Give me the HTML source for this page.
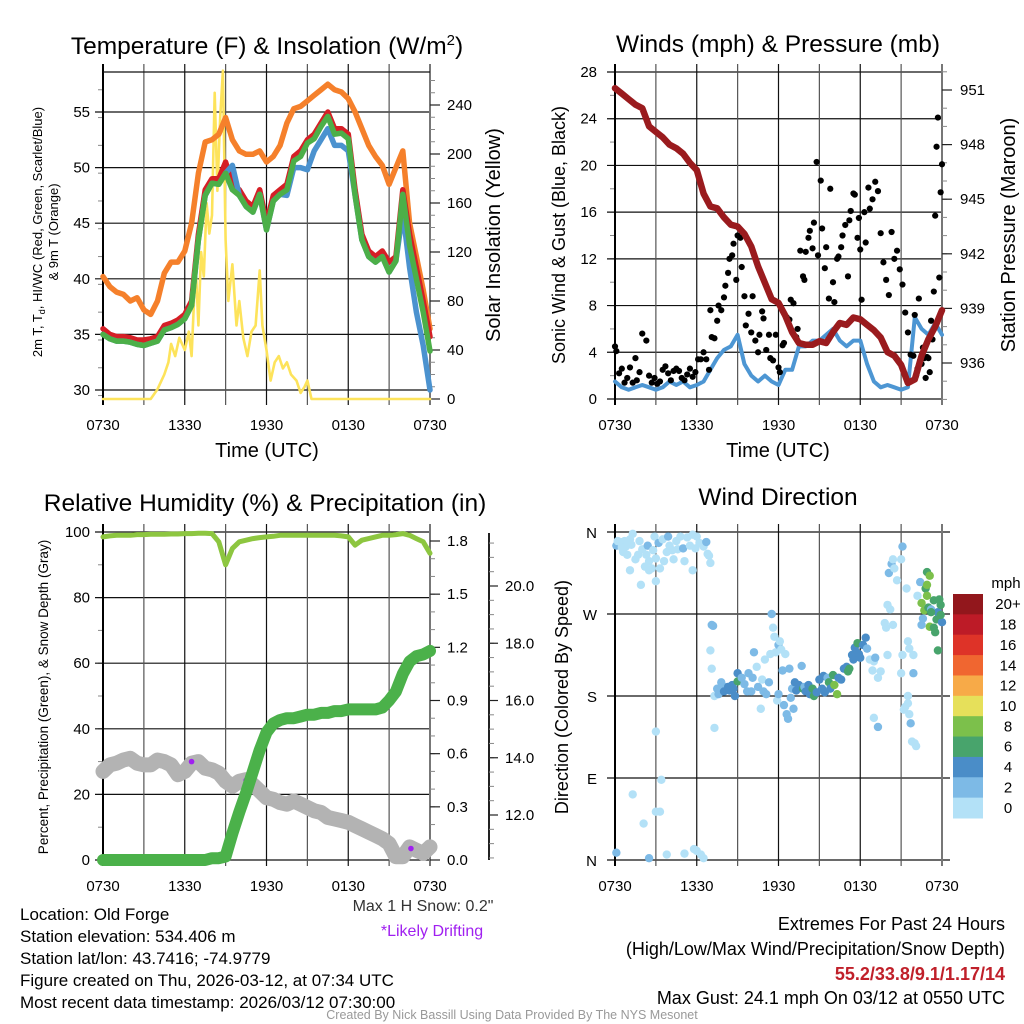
<!DOCTYPE html>
<html><head><meta charset="utf-8"><style>
html,body{margin:0;padding:0;background:#fff;}
svg{display:block;font-family:"Liberation Sans",Arial,sans-serif;}
</style></head><body>
<svg id="s" width="1024" height="1024" viewBox="0 0 1024 1024" xmlns="http://www.w3.org/2000/svg">
<text x="267" y="54" font-size="24.5" text-anchor="middle">Temperature (F) &amp; Insolation (W/m<tspan font-size="15" dy="-9">2</tspan><tspan dy="9">)</tspan></text>
<text x="778" y="52" font-size="24.5" text-anchor="middle">Winds (mph) &amp; Pressure (mb)</text>
<text x="265" y="511" font-size="24.5" text-anchor="middle">Relative Humidity (%) &amp; Precipitation (in)</text>
<text x="778" y="505" font-size="24.5" text-anchor="middle">Wind Direction</text>
<g id="g"></g>
<g font-size="17">
<text x="20" y="920">Location: Old Forge</text>
<text x="20" y="942">Station elevation: 534.406 m</text>
<text x="20" y="964">Station lat/lon: 43.7416; -74.9779</text>
<text x="20" y="986">Figure created on Thu, 2026-03-12, at 07:34 UTC</text>
<text x="20" y="1008">Most recent data timestamp: 2026/03/12 07:30:00</text>
</g>
<text x="423" y="911" font-size="16" text-anchor="middle" fill="#333">Max 1 H Snow: 0.2"</text>
<text x="432" y="936" font-size="16" text-anchor="middle" fill="#a020f0">*Likely Drifting</text>
<g font-size="18" text-anchor="end">
<text x="1005" y="930">Extremes For Past 24 Hours</text>
<text x="1005" y="955">(High/Low/Max Wind/Precipitation/Snow Depth)</text>
<text x="1005" y="980" fill="#c0202a" font-weight="bold">55.2/33.8/9.1/1.17/14</text>
<text x="1005" y="1004">Max Gust: 24.1 mph On 03/12 at 0550 UTC</text>
</g>
<text x="512" y="1019" font-size="12.5" text-anchor="middle" fill="#999">Created By Nick Bassill Using Data Provided By The NYS Mesonet</text>
</svg>
<script>
// ---- data ----
const timeLabels=["0730","1330","1930","0130","0730"];
const halfHours=[0,0.5,1,1.5,2,2.5,3,3.5,4,4.5,5,5.5,6,6.5,7,7.5,8,8.5,9,9.5,10,10.5,11,11.5,12,12.5,13,13.5,14,14.5,15,15.5,16,16.5,17,17.5,18,18.5,19,19.5,20,20.5,21,21.5,22,22.5,23,23.5,24];
const temp9m=[40.2,39.3,38.8,38.6,38,38.3,37.2,36.8,38,40.5,41.5,41.5,42.5,45,49.5,52.3,52.5,53,54.5,52.5,51.5,51.2,51.2,51.5,50.5,51,52,54,55.3,55.5,56,56.5,57,57.5,57,56.8,56.2,55,53.5,52,51,50.2,48.5,50,51.5,45,42,39,35.5];
const temp2m=[35.5,35,34.8,34.8,34.7,34.5,34.5,34.6,34.8,35.8,36,36.3,36.8,38,44,48,49,49,50.5,48.5,48,47,46.5,48,45,47.5,48,48.5,51,51.5,52.5,53,54,55,53.5,53.5,53,48,44,42.5,42,42.5,41.5,42,48,44,41,38,34.8];
const dewpt=[35,34.6,34.4,34.4,34.3,34.1,34,34.2,34.4,35.4,35.6,35.9,36.4,37.6,43.5,47.5,48.6,48.5,49.5,48,47.5,46.5,46,47.6,44.4,47,47.6,48,50.6,51,52.2,52.6,53.7,54.6,53,53.1,52.6,47.5,43.5,42,41.5,42,40.6,41.6,47.6,43,40,37,33.5];
const windChill=[35,34.6,34.4,34.4,34.3,34.1,34,34.2,34.4,35.4,35.6,35.9,36.4,37.6,43.5,47.5,48.6,48.5,49.5,50.2,47.5,46.5,46,47.6,44.4,47,47.6,47.5,50,50,49.8,51.5,52.5,53.5,52,52,51.5,47.5,43.5,42,41.5,42,40.6,41.6,46,41,37,34,30];
const solarTimes=[0,3.5,4,4.5,4.8,5,5.3,5.6,6,6.3,6.5,6.8,7,7.2,7.4,7.6,7.8,8,8.2,8.4,8.6,8.8,9,9.2,9.5,9.8,10,10.3,10.6,10.9,11.2,11.5,11.7,12,12.3,12.6,12.9,13.2,13.5,13.8,14.2,14.5,14.8,15,15.3,24];
const solar=[0,0,8,20,30,45,35,50,40,55,35,110,60,120,100,160,135,150,250,170,230,268,130,80,110,60,80,50,35,55,60,105,60,40,15,30,35,25,30,20,15,5,10,15,0,0];
const sonicWind=[1.5,1,0.8,1,1.2,1,0.8,1,1.5,1.2,1.5,1,1.2,1.5,2.5,3.5,4.2,4.5,5.5,3,2,1.5,2,1.5,1.2,2.5,2.5,4.5,4.5,5,5,5.5,6,5,4.5,5,5,3,1.5,1,1.2,1,0.8,1,7,6,5.5,6.5,5.5];
const pressure=[951.1,950.8,950.5,950.2,950,949,948.7,948.4,948,947.8,947.5,947,946.6,945.3,944.6,944.5,944,943.6,943.5,943.1,942.4,941.3,940.4,939.5,939.3,938.6,937.7,937.1,937,937,937.2,937.1,937.7,938.2,938.1,938.5,938.4,938.1,937.8,937.4,936.6,936.4,935.9,934.9,935.1,936.4,937.3,938,938.9];
const gustTimes=[0,0.1,0.3,0.5,0.7,0.9,1.1,1.3,1.5,1.6,1.8,2,2.3,2.5,2.7,2.9,3.1,3.3,3.5,3.7,3.9,4.1,4.3,4.5,4.7,4.9,5.1,5.3,5.5,5.7,5.9,6.1,6.3,6.5,6.7,6.9,7,7.1,7.3,7.5,7.6,7.8,8,8.1,8.3,8.4,8.6,8.7,8.9,9,9.2,9.3,9.5,9.6,9.8,10,10.1,10.3,10.5,10.6,10.8,10.9,11.1,11.3,11.4,11.6,11.8,12,12.1,12.3,12.4,12.6,12.8,12.9,13.1,13.3,13.4,13.6,13.8,13.9,14,14.2,14.3,14.5,14.6,14.8,14.9,15.1,15.2,15.4,15.5,15.7,15.8,16,16.1,16.3,16.4,16.6,16.7,16.9,17.1,17.2,17.3,17.5,17.6,17.8,17.9,18,18.1,18.3,18.4,18.6,18.7,18.9,19.1,19.3,19.5,19.7,19.9,20.1,20.3,20.5,20.7,20.9,21.1,21.3,21.5,21.7,21.9,22,22.1,22.2,22.3,22.4,22.5,22.6,22.7,22.8,22.9,23,23.1,23.2,23.3,23.4,23.5,23.6,23.7,23.8,23.9,24];
const gusts=[4.5,4.1,2.2,2.6,1.4,1.8,2.7,1.4,3.5,1.6,2.3,5.6,5,2,1.4,1.8,1.3,1.5,2.5,2.8,2.2,1.6,2.4,2.6,2.4,1.8,1.6,2.1,2.6,1.9,2.3,3.4,3.4,4,3.4,2.5,7.6,5.3,5.2,6.7,8,7.6,8.7,9.7,10.8,12,12.3,13.3,10.2,14,13.8,11.3,8.8,6.3,7.3,5.7,8.8,5,4,5.5,7.5,6.9,4.2,5.5,3.5,3.3,5.5,2.7,2.3,4.6,4.8,7,6.8,8.5,8.2,5.3,6,12.7,10.5,10.2,12.6,13.8,14.4,12.9,15.1,20.3,12.3,18.7,14.6,11.2,13,8.6,18,10,8.3,12,12.2,13,14,14.9,10.5,15.3,16.1,17.6,17.5,13.8,15.5,12.8,8.5,16,13.4,18.1,16.3,17.1,18.6,17.8,14.2,11.7,10.2,8.9,14.3,12,12.7,11.1,9.8,7.4,5.7,3.8,3.7,7.2,2,2.6,8.6,3.3,3,4.4,3.5,1.8,3.6,3.5,2.3,6.7,5.1,9.2,15.7,21.6,24.1,10.4,17.7,20.1,19.3,16.2,14.2,22,17.3,20.5,18.7,19.7,16.6,12,11.7,18.9,15.3,18.2,13.5,17.5];
const rh=[98.5,98.8,99,99,99,99.2,99.2,99.3,99.3,99.3,99.4,99.4,99.5,99.5,99.6,99.6,99.5,97,90,95,97,97.5,98,98.3,98.5,98.7,99,99,99,99,99,99,99,99,99,98.8,98.5,96,97.5,98,98.5,99,99,99.2,99.5,99,98,97,93.5];
const precip=[0,0,0,0,0,0,0,0,0,0,0,0,0,0,0,0,0.01,0.01,0.02,0.15,0.27,0.38,0.5,0.62,0.72,0.77,0.79,0.8,0.8,0.81,0.82,0.82,0.83,0.83,0.84,0.84,0.85,0.85,0.85,0.85,0.85,0.86,0.9,0.95,1.05,1.12,1.15,1.16,1.18];
const snowDepth=[27,29,29.5,30.5,31,29.5,29,29,30.5,30,29,26,27,29.5,30,28,27.5,26.5,24,22.5,24,24.5,23,21,19,18.5,17.5,17,18,17,16,15,14.5,13,12.5,12,11.5,10.5,9.5,8.5,7.5,6.5,5,1,1,4,3,2,4];
const driftTimes=[6.5,10.5,22.6];
const driftValues=[30,24.3,3.5];
const dirTimes=[0.1,0.2,0.4,0.5,0.6,0.7,0.8,0.9,1.1,1.2,1.3,1.5,1.7,1.8,2,2.3,2.4,2.5,2.7,2.8,2.9,3,3.2,3.3,3.5,3.6,3.8,3.9,4,4.2,4.3,4.5,4.6,4.8,5,5.1,5.3,5.5,5.7,5.9,6,6.2,6.5,6.7,6.8,6.9,7,5.7,3,2.2,1.1,1.9,2.5,0.1,2.5,3.8,5.1,5.8,6,6.3,6.5,1.3,2.1,3,3.3,3.4,3,7,7.1,7.2,7.1,7.3,7.3,7.5,7.6,7.8,8,8,8.3,8.4,8.6,8.7,8.8,9,9,9.3,9.5,9.7,9.8,10,10.1,10.2,10.4,10.5,10.7,10.8,10.9,11,11.1,11.3,11.4,11.5,11.6,11.7,11.8,11.9,12,12,12.1,12.2,12.3,12.4,12.5,12.6,12.7,12.8,12.9,13,13.1,13.2,13.3,13.5,13.7,13.8,13.9,14,14.2,14.3,14.5,14.6,14.8,15,15.2,15.3,15.4,15.6,15.7,15.8,16,16.1,16.3,16.4,16.6,16.8,17,17.1,17.2,17.4,17.5,17.6,17.7,17.8,17.9,18,18.2,18.4,18.5,18.7,18.9,19,19.1,19.3,19.5,19,19.3,19.8,19.9,20,20.2,20.4,20,20.1,20.3,20.4,20.5,20.7,21.1,21.4,21,21.5,21.9,21.2,21.3,21,21.5,21.6,21.9,21.6,21.7,21.8,22,22.1,21.1,21.5,22.2,22.4,22.5,22.6,22.5,22.7,22.8,22.9,23,23.1,23.2,23.4,23.5,23.6,23.7,23.9,23.7,23.4,22.9,23.2,24,23.9,22.9,23.1,23.8];
const dirDegrees=[345,350,349,343,338,350,344,335,352,346,358,330,335,350,341,335,345,328,320,340,355,331,348,320,352,328,338,355,345,340,330,350,341,355,342,328,354,345,357,342,355,348,344,349,336,334,326,318,306,322,318,302,318,8,2,6,7,12,10,6,2,72,40,53,53,88,141,230,258,257,210,180,145,188,182,195,190,185,190,186,192,188,180,205,196,200,193,185,205,185,200,228,212,190,166,198,185,220,182,195,226,270,255,245,228,175,236,182,240,231,208,170,226,160,155,210,178,188,166,195,186,192,213,188,190,185,192,182,188,180,184,198,188,202,184,200,195,188,203,192,182,200,198,210,212,207,210,225,220,233,228,238,226,222,236,244,232,220,208,218,222,200,207,156,146,260,255,280,275,258,225,315,325,330,320,307,344,298,330,172,205,165,168,205,240,232,225,160,150,130,128,125,225,180,290,305,258,265,282,274,298,290,277,256,275,255,250,264,272,280,230,285,302,272,261,269,316,312,286];
const dirSpeeds=[3,1,1,1,1,1,1,1,1,1,1,1,1,1,1,1,3,1,1,1,1,1,3,1,1,1,1,3,1,1,1,1,1,1,3,1,1,1,1,1,1,1,1,3,1,1,1,1,1,1,1,1,1,3,3,1,1,1,1,1,1,1,1,1,1,1,1,1,3,3,1,1,1,3,3,3,3,5,5,5,5,5,5,5,7,3,3,3,3,3,3,3,1,3,1,1,3,1,3,3,1,3,1,1,1,1,3,3,1,1,3,3,1,3,3,3,3,3,3,5,5,5,3,7,3,5,5,5,7,7,5,5,5,5,5,3,7,5,7,9,9,5,5,5,5,7,7,5,5,5,5,7,5,5,5,5,3,1,1,1,3,1,1,1,3,1,1,1,1,1,1,3,3,1,1,1,3,1,1,1,3,1,1,1,1,1,1,1,3,1,1,1,1,1,1,3,3,3,9,9,7,9,7,9,3,7,7,7,5,7,7,7,9,7,5,7,7,9,7];
const speedBins=["0","2","4","6","8","10","12","14","16","18","20+"];
const binColors=["#b3e1f7","#7dbae6","#4a8dc8","#48a46c","#7cc04b","#e6e05a","#f7aa48","#f06630","#de3328","#bd1b27","#92171c"];
const tempTicks=[30,35,40,45,50,55];
const solarTicks=[0,40,80,120,160,200,240];
const windTicks=[0,4,8,12,16,20,24,28];
const presTicks=[936,939,942,945,948,951];
const pctTicks=[0,20,40,60,80,100];
const precipTicks=[0,0.3,0.6,0.9,1.2,1.5,1.8];
const snowTicks=[12,14,16,18,20];
const dirTicks=["N","E","S","W","N"];

// ---- helpers ----
const NS="http://www.w3.org/2000/svg";
const G=document.getElementById('g');
function mk(tag,attrs,parent){const e=document.createElementNS(NS,tag);for(const k in attrs)e.setAttribute(k,attrs[k]);(parent||G).appendChild(e);return e;}
function lin(d0,d1,r0,r1){return v=>r0+(v-d0)*(r1-r0)/(d1-d0);}
function pathOf(ts,vs,sx,sy){return ts.map((t,i)=>(i?'L':'M')+sx(t).toFixed(1)+','+sy(vs[i]).toFixed(1)).join('');}
function line(ts,vs,sx,sy,color,w,name){const p=mk('path',{d:pathOf(ts,vs,sx,sy),fill:'none',stroke:color,'stroke-width':w,'stroke-linejoin':'round','stroke-linecap':'round'});


return p;}
function txt(x,y,s,attrs){const e=mk('text',Object.assign({x:x,y:y},attrs||{}));e.textContent=s;return e;}
function frame(L,T,R,B,sx,name){
  const gp=mk('g',{});
  
  
  for(let h=0;h<=24;h+=3){const x=sx(h);mk('line',{x1:x,x2:x,y1:T-8,y2:B+6,stroke:(h%6==0)?'#111':'#555','stroke-width':1.2},gp);}
  timeLabels.forEach((s,i)=>{const e=txt(sx(i*6),B+31,s,{'font-size':15,'text-anchor':'middle'});
  
  });
  mk('line',{x1:L,x2:L,y1:T-8,y2:B+6,stroke:'#000','stroke-width':2},gp);
  mk('line',{x1:R,x2:R,y1:T-8,y2:B+6,stroke:'#777','stroke-width':2},gp);
}
function hgrid(vals,sy,L,R,ext,labX,fmt){vals.forEach(v=>{const y=sy(v);mk('line',{x1:L-8,x2:R+ext,y1:y,y2:y,stroke:'#111','stroke-width':1.2});
  const e=txt(labX,y+5,fmt?fmt(v):String(v),{'font-size':15,'text-anchor':'end'});
  
  });}
function rticks(vals,minorStep,lo,hi,sy,R,labX,fmt){
  for(let v=lo;v<=hi+1e-9;v+=minorStep){const y=sy(v);mk('line',{x1:R,x2:R+5,y1:y,y2:y,stroke:'#888','stroke-width':1});}
  vals.forEach(v=>{const y=sy(v);mk('line',{x1:R,x2:R+10,y1:y,y2:y,stroke:'#222','stroke-width':1.2});
  const e=txt(labX,y+5,fmt?fmt(v):String(v),{'font-size':15});
  
  });
}
function lminor(lo,hi,step,sy,L){for(let v=lo;v<=hi+1e-9;v+=step){const y=sy(v);mk('line',{x1:L-5,x2:L,y1:y,y2:y,stroke:'#888','stroke-width':1});}}
function rot(x,y,s,size,name){const e=txt(x,y,s,{'font-size':size,'text-anchor':'middle',transform:'rotate(-90 '+x+' '+y+')'});

return e;}

// ---- panel 1 ----
(function(){
 const L=103,R=430,T=72,B=399;
 const sx=lin(0,24,L,R), sy=lin(30,55,390,112), sr=lin(0,240,399,105);
 lminor(29.5,58,2.5,sy,L);
 hgrid(tempTicks,sy,L,R,0,90);
 frame(L,T,R,B,sx,'temp');
 mk('line',{x1:L,x2:R,y1:T,y2:T,stroke:'#111','stroke-width':1.2});
 rticks(solarTicks,10,0,260,sr,R,447);
 line(solarTimes,solar,sx,sr,'#fde35b',2.6,'solar-line');
 line(halfHours,temp9m,sx,sy,'#f5802b',5.5,'temp-9m-line');
 line(halfHours,temp2m,sx,sy,'#d51f26',5.5,'temp-2m-line');
 line(halfHours,windChill,sx,sy,'#4b92cf',5.5,'windchill-line');
 line(halfHours,dewpt,sx,sy,'#4caf48',5.5,'dewpoint-line');
 const t=txt(267,457,'Time (UTC)',{'font-size':20,'text-anchor':'middle'});
 
 
 const a=mk('text',{'font-size':13,'text-anchor':'middle',transform:'rotate(-90 0 0)'});
 
 
 a.innerHTML='<tspan x="-232" y="42">2m T, T<tspan font-size="9" dy="3">d</tspan><tspan dy="-3">, HI/WC (Red, Green, Scarlet/Blue)</tspan></tspan><tspan x="-232" y="58">&amp; 9m T (Orange)</tspan>';
 rot(500,235,'Solar Insolation (Yellow)',20,'right-axis-title');
})();

// ---- panel 2 ----
(function(){
 const L=615,R=942,T=72,B=399;
 const sx=lin(0,24,L,R), sy=lin(0,28,B,T), sr=lin(936,951,363,90);
 lminor(0,28,2,sy,L);
 hgrid(windTicks,sy,L,R,0,597);
 frame(L,T,R,B,sx,'wind');
 rticks(presTicks,1,934,952,sr,R,960);
 line(halfHours,sonicWind,sx,sy,'#4d96d3',4,'sonic-wind-line');
 gustTimes.forEach((t,i)=>{const c=mk('circle',{cx:sx(t),cy:sy(gusts[i]),r:3.1,fill:'#000'});
 
 });
 line(halfHours,pressure,sx,sr,'#9a1b1e',6.5,'pressure-line');
 const t=txt(778,457,'Time (UTC)',{'font-size':20,'text-anchor':'middle'});
 
 
 rot(565,235,'Sonic Wind & Gust (Blue, Black)',18,'y-axis-title');
 rot(1015,235,'Station Pressure (Maroon)',20,'right-axis-title');
})();

// ---- panel 3 ----
(function(){
 const L=103,R=430,T=532,B=860;
 const sx=lin(0,24,L,R), sy=lin(0,100,B,T), sr=lin(0,1.8,860,541), s3=lin(12,20,815,586);
 lminor(0,100,10,sy,L);
 hgrid(pctTicks,sy,L,R,0,90);
 frame(L,T,R,B,sx,'humidity');
 rticks(precipTicks,0.1,0,1.8,sr,R,447,v=>v.toFixed(1));
 mk('line',{x1:489,x2:489,y1:533,y2:860,stroke:'#222','stroke-width':2});
 for(let v=10.5;v<=21.5;v+=0.5){const y=s3(v);if(y<533||y>860)continue;mk('line',{x1:489,x2:494,y1:y,y2:y,stroke:'#888','stroke-width':1});}
 snowTicks.forEach(v=>{const y=s3(v);mk('line',{x1:489,x2:498,y1:y,y2:y,stroke:'#222','stroke-width':1.2});
 const e=txt(505,y+5,v.toFixed(1),{'font-size':15});
 
 });
 line(halfHours,snowDepth,sx,sy,'#b3b3b3',15,'snow-depth-line');
 driftTimes.forEach((t,i)=>{const c=mk('circle',{cx:sx(t),cy:sy(driftValues[i]),r:2.8,fill:'#a020f0'});
 
 });
 line(halfHours,precip,sx,sr,'#4bb14a',12,'precip-line');
 line(halfHours,rh,sx,sy,'#8dc640',5,'rh-line');
 rot(48,697,'Percent, Precipitation (Green), & Snow Depth (Gray)',13.5,'y-axis-title');
})();

// ---- panel 4 ----
(function(){
 const L=615,R=942,T=532,B=860;
 const sx=lin(0,24,L,R), sy=lin(0,360,B,T);
 dirTicks.forEach((s,i)=>{const y=sy(i*90);mk('line',{x1:L-8,x2:R+8,y1:y,y2:y,stroke:'#111','stroke-width':1.2});
 const e=txt(597,y+6,s,{'font-size':15,'text-anchor':'end'});
 
 });
 frame(L,T,R,B,sx,'direction');
 dirTimes.forEach((t,i)=>{let b=Math.min(10,Math.floor(dirSpeeds[i]/2));
 const c=mk('circle',{cx:sx(t),cy:sy(dirDegrees[i]),r:4.2,fill:binColors[b]});
 
 });
 rot(568,697,'Direction (Colored By Speed)',18,'y-axis-title');
 const top=594,h=(818-594)/11;
 for(let i=0;i<11;i++){const bi=10-i;const r=mk('rect',{x:953,y:top+i*h,width:30,height:h+0.5,fill:binColors[bi]});
 
 
 const e=txt(1008,top+i*h+h/2+5,speedBins[bi],{'font-size':15,'text-anchor':'middle'});
 
 }
 const m=txt(1006,588,'mph',{'font-size':15,'text-anchor':'middle'});
 
 
})();
</script>
</body></html>
